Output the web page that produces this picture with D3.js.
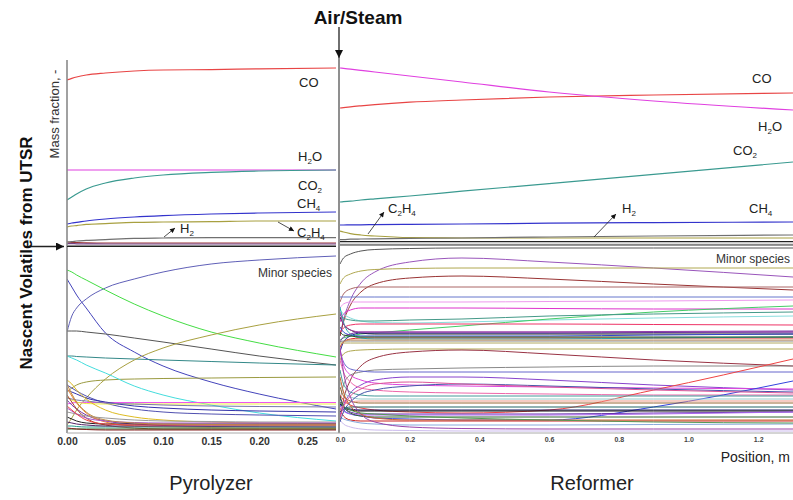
<!DOCTYPE html>
<html><head><meta charset="utf-8">
<script src="https://cdn.jsdelivr.net/npm/d3@7"></script>
<style>
html,body{margin:0;padding:0;background:#fff;}
svg{display:block;font-family:"Liberation Sans",Arial,Helvetica,sans-serif;}
</style></head><body>
<svg id="chart" width="793" height="500"></svg>
<script>
// ---------- data ----------
// sample positions along each reactor (m)
const pyroX   = [0, 0.005, 0.01, 0.02, 0.04, 0.07, 0.1, 0.15, 0.2, 0.28];
const reformX = [0, 0.01, 0.03, 0.06, 0.1, 0.2, 0.35, 0.6, 0.9, 1.3];
const pyroTicks   = [0, 0.05, 0.10, 0.15, 0.20, 0.25];
const reformTicks = [0, 0.2, 0.4, 0.6, 0.8, 1.0, 1.2];

// major species, mass fraction
const majorNames  = ["CO", "H_2O", "CO_2", "CH_4", "C_2H_4", "H_2"];
const majorColors = ["#e84545", "#e040e0", "#3a9a90", "#3333cc", "#a8a040", "#707070"];
const pyroMajor = [
  [0.42, 0.424, 0.4275, 0.4325, 0.4375, 0.4425, 0.445, 0.446, 0.448, 0.45],
  [0.195, 0.195, 0.195, 0.195, 0.195, 0.195, 0.195, 0.195, 0.195, 0.195],
  [0.12, 0.1275, 0.135, 0.1475, 0.1625, 0.175, 0.1825, 0.189, 0.1925, 0.195],
  [0.06, 0.0625, 0.064, 0.0675, 0.0725, 0.0775, 0.081, 0.085, 0.0875, 0.09],
  [0.0525, 0.055, 0.056, 0.059, 0.061, 0.064, 0.065, 0.066, 0.0675, 0.0675],
  [0.015, 0.016, 0.0175, 0.019, 0.021, 0.024, 0.025, 0.026, 0.026, 0.026]
];
const reformMajor = [
  [0.35, 0.351, 0.353, 0.3555, 0.3585, 0.3645, 0.37, 0.3775, 0.3825, 0.3875],
  [0.45, 0.449, 0.447, 0.444, 0.44, 0.43, 0.415, 0.39, 0.3675, 0.345],
  [0.115, 0.116, 0.117, 0.12, 0.123, 0.13, 0.142, 0.161, 0.184, 0.215],
  [0.0575, 0.0575, 0.058, 0.058, 0.0585, 0.059, 0.06, 0.062, 0.0635, 0.065],
  [0.0425, 0.04, 0.036, 0.0325, 0.03, 0.026, 0.025, 0.025, 0.025, 0.025],
  [0.021, 0.021, 0.022, 0.0225, 0.023, 0.024, 0.025, 0.0275, 0.03, 0.0325]
];
// remaining low-fraction species sitting on the panel floor
const pyroTraceColors = ["#993333", "#774488", "#222222"];
const pyroTrace = [
  [0.015, 0.014, 0.0135, 0.013, 0.0125, 0.0125, 0.0125, 0.0125, 0.0125, 0.0125],
  [0.011, 0.011, 0.0105, 0.0105, 0.01, 0.01, 0.01, 0.01, 0.01, 0.01],
  [0.005, 0.005, 0.005, 0.005, 0.005, 0.005, 0.005, 0.005, 0.005, 0.005]
];
const reformTraceColors = ["#222222", "#888888"];
const reformTrace = [
  [0.016, 0.016, 0.016, 0.016, 0.016, 0.016, 0.016, 0.016, 0.016, 0.016],
  [0.009, 0.009, 0.009, 0.009, 0.009, 0.009, 0.009, 0.009, 0.009, 0.009]
];

// minor species, mass fraction x 1e-3
const pyroMinorColors = ["#6060b8","#44dd44","#4444bb","#555555","#338888","#a8a040","#9a9a40",
  "#44dddd","#5050b0","#ee55ee","#eeee44","#3333aa","#7777aa","#7733aa","#aa4422","#ee8833",
  "#ddbb22","#999999","#226622","#229988","#222222","#552266","#882222","#aa55cc","#ee4444","#bb8844"];
const pyroMinor = [
  [10.0, 11.6, 12.4, 13.3, 14.4, 15.3, 16.0, 16.8, 17.2, 17.6],
  [16.2, 16.0, 15.7, 15.2, 14.2, 12.8, 11.6, 10.0, 8.9, 7.5],
  [15.3, 14.5, 13.7, 12.4, 9.9, 8.0, 6.6, 5.0, 3.8, 2.3],
  [10.1, 10.1, 10.1, 10.0, 9.8, 9.4, 9.0, 8.3, 7.6, 6.7],
  [7.6, 7.6, 7.55, 7.5, 7.4, 7.3, 7.2, 7.05, 6.9, 6.7],
  [0.7, 1.4, 2.2, 3.4, 5.3, 7.2, 8.4, 9.7, 10.7, 11.8],
  [4.0, 4.4, 4.7, 5.0, 5.2, 5.3, 5.35, 5.4, 5.45, 5.5],
  [7.6, 7.4, 7.2, 6.7, 5.9, 4.6, 3.7, 2.7, 1.9, 1.1],
  [4.7, 4.4, 4.1, 3.6, 2.9, 2.3, 2.0, 1.8, 1.7, 1.6],
  [2.8, 2.9, 2.95, 2.95, 2.95, 2.95, 2.95, 2.95, 2.95, 2.95],
  [3.5, 3.2, 3.0, 2.85, 2.8, 2.8, 2.8, 2.8, 2.8, 2.8],
  [4.2, 4.0, 3.8, 3.4, 3.0, 2.6, 2.4, 2.2, 2.1, 2.0],
  [3.4, 3.3, 3.2, 3.1, 2.9, 2.8, 2.7, 2.6, 2.55, 2.5],
  [3.2, 2.7, 2.3, 1.7, 1.1, 0.8, 0.65, 0.55, 0.5, 0.45],
  [3.7, 3.0, 2.3, 1.4, 0.7, 0.4, 0.3, 0.3, 0.3, 0.3],
  [4.4, 3.6, 2.9, 1.9, 1.0, 0.6, 0.5, 0.45, 0.4, 0.4],
  [5.2, 4.8, 4.2, 3.3, 2.2, 1.5, 1.2, 1.0, 0.9, 0.85],
  [2.0, 1.9, 1.8, 1.6, 1.4, 1.2, 1.1, 1.05, 1.0, 1.0],
  [0.3, 0.3, 0.3, 0.3, 0.3, 0.3, 0.3, 0.3, 0.3, 0.3],
  [0.6, 0.6, 0.55, 0.5, 0.5, 0.5, 0.5, 0.5, 0.5, 0.5],
  [1.5, 1.3, 1.1, 0.9, 0.8, 0.8, 0.8, 0.8, 0.8, 0.8],
  [1.0, 0.9, 0.8, 0.7, 0.6, 0.6, 0.6, 0.6, 0.6, 0.6],
  [0.4, 0.35, 0.3, 0.25, 0.2, 0.2, 0.2, 0.2, 0.2, 0.2],
  [2.4, 2.1, 1.8, 1.4, 1.1, 0.95, 0.9, 0.9, 0.9, 0.9],
  [2.6, 2.2, 1.8, 1.2, 0.8, 0.7, 0.7, 0.7, 0.7, 0.7],
  [4.8, 3.8, 3.0, 2.0, 1.2, 0.9, 0.8, 0.75, 0.7, 0.7]
];

const reformMinorColors = ["#555555","#9955bb","#b0a850","#993333","#aa6666","#6677cc","#ee99ee",
  "#dd33cc","#88dddd","#44cc66","#449988","#ee3366","#222222","#222288","#3344cc","#dd2222",
  "#22aaaa","#7733aa","#225522","#888888","#b0a860","#cc9966","#aa44aa",
  "#b0a850","#993344","#888888","#6666cc","#8844cc","#dd44dd","#ee66aa","#ee4444","#3344dd",
  "#449999","#1a1a66","#111111","#6633aa","#cc2222","#226666","#aa66ee","#996633","#99cccc",
  "#ee9988","#336633","#ccbbee","#88aadd","#9944aa","#cc6633","#559955","#4455aa","#dd5599"];
const reformMinor = [
  [16.8, 17.4, 17.8, 18.1, 18.25, 18.35, 18.4, 18.4, 18.4, 18.4],
  [9.6, 11.2, 13.2, 14.9, 16.0, 17.0, 17.4, 17.0, 16.4, 15.5],
  [14.8, 15.4, 15.8, 16.1, 16.25, 16.35, 16.4, 16.4, 16.4, 16.4],
  [9.6, 11.0, 12.7, 14.0, 14.8, 15.4, 15.6, 15.3, 14.8, 14.2],
  [13.0, 13.8, 14.3, 14.5, 14.5, 14.5, 14.5, 14.5, 14.5, 14.5],
  [13.5, 13.5, 13.5, 13.5, 13.5, 13.5, 13.5, 13.5, 13.5, 13.5],
  [12.4, 12.8, 13.0, 13.0, 13.0, 13.0, 13.0, 13.05, 13.1, 13.2],
  [11.0, 11.8, 12.2, 12.4, 12.4, 12.4, 12.4, 12.35, 12.3, 12.3],
  [12.2, 11.8, 11.4, 11.1, 10.95, 10.9, 11.0, 11.2, 11.4, 11.6],
  [9.2, 9.4, 9.6, 9.8, 9.9, 10.2, 10.6, 11.3, 12.0, 12.6],
  [11.7, 11.4, 11.2, 11.1, 11.1, 11.2, 11.3, 11.6, 11.8, 12.0],
  [10.0, 10.4, 10.7, 10.8, 10.8, 10.8, 10.8, 10.8, 10.75, 10.7],
  [11.5, 10.8, 10.2, 9.9, 9.8, 9.8, 9.8, 9.8, 9.8, 9.8],
  [8.0, 9.0, 9.6, 9.9, 9.9, 9.9, 9.9, 9.9, 9.95, 10.0],
  [10.5, 10.0, 9.7, 9.6, 9.6, 9.6, 9.6, 9.6, 9.7, 9.8],
  [8.5, 9.0, 9.3, 9.4, 9.4, 9.4, 9.4, 9.4, 9.4, 9.4],
  [12.5, 11.0, 9.8, 9.4, 9.3, 9.3, 9.3, 9.3, 9.4, 9.5],
  [9.0, 9.5, 9.8, 10.0, 10.0, 10.0, 10.0, 10.0, 10.05, 10.1],
  [10.0, 9.7, 9.6, 9.5, 9.5, 9.5, 9.5, 9.5, 9.5, 9.5],
  [9.0, 9.1, 9.1, 9.1, 9.1, 9.1, 9.1, 9.1, 9.1, 9.1],
  [8.9, 8.9, 8.9, 8.9, 8.9, 8.9, 8.9, 8.9, 8.9, 8.9],
  [8.6, 9.0, 9.2, 9.2, 9.2, 9.2, 9.2, 9.2, 9.2, 9.2],
  [12.0, 10.8, 10.2, 10.0, 10.0, 10.0, 10.0, 10.0, 10.0, 10.0],
  [7.2, 7.8, 8.1, 8.2, 8.25, 8.3, 8.3, 8.3, 8.3, 8.3],
  [1.2, 3.2, 5.2, 6.6, 7.4, 8.0, 8.2, 7.8, 7.2, 6.6],
  [3.2, 4.7, 5.7, 6.0, 6.2, 6.3, 6.4, 6.5, 6.6, 6.6],
  [8.2, 7.0, 6.3, 6.1, 6.0, 6.0, 6.0, 6.0, 6.0, 6.0],
  [1.7, 2.7, 3.9, 4.7, 5.2, 5.5, 5.5, 5.2, 4.7, 4.2],
  [8.2, 6.7, 5.7, 5.2, 4.9, 4.7, 4.6, 4.5, 4.4, 4.3],
  [7.2, 6.0, 5.0, 4.4, 4.2, 4.0, 3.9, 3.8, 3.7, 3.7],
  [3.7, 3.2, 2.7, 2.4, 2.2, 2.0, 1.9, 2.2, 4.2, 7.3],
  [2.7, 2.2, 1.8, 1.6, 1.4, 1.3, 1.2, 1.2, 2.5, 5.1],
  [6.2, 4.8, 4.0, 3.7, 3.6, 3.6, 3.6, 3.6, 3.6, 3.6],
  [2.8, 2.5, 2.3, 2.2, 2.2, 2.2, 2.2, 2.2, 2.2, 2.2],
  [3.0, 2.5, 2.2, 2.1, 2.1, 2.1, 2.1, 2.1, 2.1, 2.1],
  [3.4, 2.5, 2.0, 1.8, 1.8, 1.8, 1.8, 1.8, 1.9, 2.0],
  [2.4, 1.6, 1.2, 1.1, 1.1, 1.1, 1.1, 1.1, 1.1, 1.1],
  [2.0, 2.3, 2.5, 2.5, 2.5, 2.5, 2.5, 2.5, 2.5, 2.5],
  [2.6, 2.1, 1.8, 1.7, 1.7, 1.7, 1.7, 1.7, 1.8, 2.0],
  [4.5, 3.6, 3.1, 2.9, 2.9, 2.9, 2.9, 2.9, 2.9, 2.9],
  [5.0, 4.0, 3.5, 3.3, 3.3, 3.3, 3.3, 3.3, 3.3, 3.3],
  [2.2, 2.7, 3.0, 3.1, 3.1, 3.1, 3.1, 3.1, 3.1, 3.1],
  [3.6, 2.6, 1.9, 1.6, 1.5, 1.5, 1.5, 1.5, 1.5, 1.5],
  [1.2, 0.8, 0.5, 0.3, 0.2, 0.15, 0.1, 0.1, 0.1, 0.1],
  [1.5, 1.3, 1.1, 0.9, 0.8, 0.7, 0.7, 0.7, 0.75, 0.8],
  [8.5, 6.0, 3.5, 1.8, 1.0, 0.5, 0.35, 0.3, 0.3, 0.3],
  [5.5, 4.0, 2.6, 1.8, 1.4, 1.2, 1.2, 1.2, 1.2, 1.2],
  [3.0, 2.6, 2.2, 1.9, 1.8, 1.6, 1.4, 1.2, 1.0, 0.9],
  [1.0, 2.0, 3.0, 3.8, 4.2, 4.6, 4.8, 4.6, 4.3, 4.0],
  [1.5, 2.5, 3.6, 4.3, 4.8, 5.0, 4.8, 4.5, 4.2, 3.9]
];

// ---------- drawing ----------
const svg = d3.select("#chart");
const FONT = '"Liberation Sans",Arial,Helvetica,sans-serif';

const xPyro = d3.scaleLinear().domain([0, 0.28]).range([67, 336]);
const xRef  = d3.scaleLinear().domain([0, 1.3]).range([340, 793]);
const yTop  = d3.scaleLinear().domain([0, 0.47]).range([248, 60]);
const yBot  = d3.scaleLinear().domain([0, 18.6]).range([432, 246]);

const defs = svg.append("defs");
function clip(id, x0, x1, y0, y1) {
  defs.append("clipPath").attr("id", id).append("rect")
    .attr("x", x0).attr("y", y0).attr("width", x1 - x0).attr("height", y1 - y0);
}
clip("cPT", 67, 336, 58, 247.5);
clip("cPB", 67, 336, 246.5, 433);
clip("cRT", 340, 793, 58, 245.5);
clip("cRB", 340, 793, 245.5, 433);

function arrowMarker(id, w, h) {
  defs.append("marker").attr("id", id)
    .attr("viewBox", "0 0 10 10").attr("refX", 10).attr("refY", 5)
    .attr("markerUnits", "userSpaceOnUse")
    .attr("markerWidth", w).attr("markerHeight", h).attr("orient", "auto")
    .append("path").attr("d", "M0,0 L10,5 L0,10 z").attr("fill", "#111");
}
arrowMarker("bigHead", 12, 8);
arrowMarker("smallHead", 6, 5);

function drawSeries(clipId, xs, xScale, yScale, values, colors, width) {
  const g = svg.append("g").attr("clip-path", `url(#${clipId})`).attr("fill", "none");
  const line = d3.line()
    .x((d, i) => xScale(xs[i]))
    .y(d => yScale(d))
    .curve(d3.curveMonotoneX);
  values.forEach((vals, k) => {
    g.append("path").attr("d", line(vals))
      .attr("stroke", colors[k % colors.length])
      .attr("stroke-width", width)
      .attr("stroke-linejoin", "round");
  });
}

// minor species first so the frame and major species sit above
drawSeries("cPB", pyroX, xPyro, yBot, pyroMinor, pyroMinorColors, 1);
drawSeries("cRB", reformX, xRef, yBot, reformMinor, reformMinorColors, 1);
drawSeries("cPT", pyroX, xPyro, yTop, pyroTrace, pyroTraceColors, 1.2);
drawSeries("cRT", reformX, xRef, yTop, reformTrace, reformTraceColors, 1.1);
drawSeries("cPT", pyroX, xPyro, yTop, pyroMajor, majorColors, 1.2);
drawSeries("cRT", reformX, xRef, yTop, reformMajor, majorColors, 1.2);

// frame lines
svg.append("line").attr("x1", 67).attr("x2", 67).attr("y1", 60).attr("y2", 433)
  .attr("stroke", "#8a8a8a").attr("stroke-width", 1.6);
svg.append("line").attr("x1", 339).attr("x2", 339).attr("y1", 58).attr("y2", 433)
  .attr("stroke", "#333").attr("stroke-width", 1.1);
svg.append("line").attr("x1", 67).attr("x2", 336).attr("y1", 246.5).attr("y2", 246.5)
  .attr("stroke", "#222").attr("stroke-width", 1);
svg.append("line").attr("x1", 340).attr("x2", 793).attr("y1", 245.5).attr("y2", 245.5)
  .attr("stroke", "#999").attr("stroke-width", 1);
svg.append("line").attr("x1", 67).attr("x2", 793).attr("y1", 433).attr("y2", 433)
  .attr("stroke", "#aaa").attr("stroke-width", 1);

// x axes
const axP = svg.append("g").attr("transform", "translate(0,433)")
  .call(d3.axisBottom(xPyro).tickValues(pyroTicks).tickFormat(d3.format(".2f")).tickSize(0).tickPadding(4.5));
axP.select(".domain").remove();
axP.selectAll("text").attr("font-family", FONT).attr("font-size", 10.5)
  .attr("font-weight", "bold").attr("fill", "#333");
const axR = svg.append("g").attr("transform", "translate(0,433)")
  .call(d3.axisBottom(xRef).tickValues(reformTicks).tickFormat(d3.format(".1f")).tickSize(0).tickPadding(4));
axR.select(".domain").remove();
axR.selectAll("text").attr("font-family", FONT).attr("font-size", 7)
  .attr("font-weight", "bold").attr("fill", "#444");

// species labels with subscripts ("_" marks a subscript digit)
function species(x, y, label, size) {
  const t = svg.append("text").attr("x", x).attr("y", y)
    .attr("font-size", size).attr("fill", "#222").attr("font-family", FONT);
  const parts = label.split(/(_\d)/).filter(s => s.length);
  let sub = false;
  parts.forEach(p => {
    if (p[0] === "_") {
      t.append("tspan").text(p.slice(1)).attr("font-size", size * 0.62).attr("dy", 3);
      sub = true;
    } else {
      t.append("tspan").text(p).attr("dy", sub ? -3 : 0);
      sub = false;
    }
  });
}
const pyroLabelPos = [[299, 87], [298, 161], [298, 190], [297, 208], [297, 237], [180, 233]];
const refLabelPos  = [[752, 83], [758, 131], [733, 155], [749, 213], [388, 213], [622, 213]];
majorNames.forEach((n, i) => {
  species(pyroLabelPos[i][0], pyroLabelPos[i][1], n, 13);
  species(refLabelPos[i][0], refLabelPos[i][1], n, 13);
});

function pointer(x1, y1, x2, y2, marker, w) {
  svg.append("line").attr("x1", x1).attr("y1", y1).attr("x2", x2).attr("y2", y2)
    .attr("stroke", "#222").attr("stroke-width", w).attr("marker-end", `url(#${marker})`);
}
pointer(164, 237, 175, 228, "smallHead", 0.8);
pointer(278, 222, 294, 231, "smallHead", 0.8);
pointer(368, 234, 384, 212, "smallHead", 0.8);
pointer(594, 237, 616, 214, "smallHead", 0.8);
pointer(339, 27, 339, 58, "bigHead", 1.3);
pointer(29, 246.5, 64, 246.5, "bigHead", 1.3);

// text
svg.append("text").attr("x", 358).attr("y", 24).attr("text-anchor", "middle")
  .attr("font-size", 19).attr("font-weight", "bold").attr("fill", "#111").text("Air/Steam");
svg.append("text").attr("transform", "translate(59,114) rotate(-90)").attr("text-anchor", "middle")
  .attr("font-size", 13).attr("fill", "#333").text("Mass fraction, -");
svg.append("text").attr("transform", "translate(32,253) rotate(-90)").attr("text-anchor", "middle")
  .attr("font-size", 17).attr("font-weight", "bold").attr("fill", "#111").text("Nascent Volatiles from UTSR");
svg.append("text").attr("x", 332).attr("y", 277).attr("text-anchor", "end")
  .attr("font-size", 12).attr("fill", "#333").text("Minor species");
svg.append("text").attr("x", 790).attr("y", 263).attr("text-anchor", "end")
  .attr("font-size", 12).attr("fill", "#333").text("Minor species");
svg.append("text").attr("x", 790).attr("y", 462).attr("text-anchor", "end")
  .attr("font-size", 14).attr("fill", "#222").text("Position, m");
svg.append("text").attr("x", 211).attr("y", 490).attr("text-anchor", "middle")
  .attr("font-size", 20).attr("fill", "#222").text("Pyrolyzer");
svg.append("text").attr("x", 592).attr("y", 490).attr("text-anchor", "middle")
  .attr("font-size", 20).attr("fill", "#222").text("Reformer");
</script></body></html>
